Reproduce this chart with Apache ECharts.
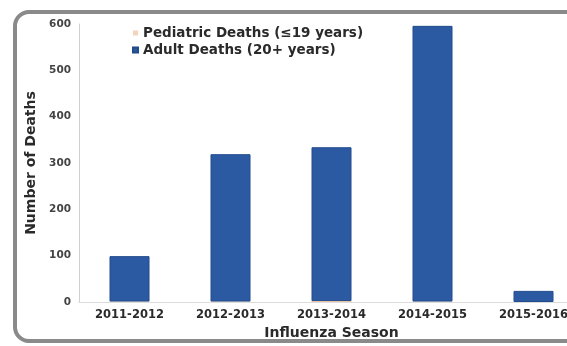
<!DOCTYPE html>
<html>
<head>
<meta charset="utf-8">
<script src="https://cdn.jsdelivr.net/npm/echarts@6/dist/echarts.min.js"></script>
<style>html,body{margin:0;padding:0;background:#fff;}#c{width:567px;height:346px;}</style>
</head>
<body>
<div id="c"></div>
<script>
const seasons = ['2011-2012', '2012-2013', '2013-2014', '2014-2015', '2015-2016'];
const pediatricDeaths = [1, 1, 2, 1, 0];
const adultDeaths = [98, 318, 332, 595, 24];
const yTicks = { min: 0, max: 600, interval: 100 };

const chart = echarts.init(document.getElementById('c'), null, { renderer: 'canvas' });
const font = '"DejaVu Sans", sans-serif';
chart.setOption({
  animation: false,
  backgroundColor: '#ffffff',
  graphic: [{
    type: 'rect', z: -10,
    shape: { x: 15, y: 12, width: 640, height: 329, r: 14 },
    style: { fill: '#ffffff', stroke: '#8a8a8a', lineWidth: 4 }
  }],
  legend: {
    orient: 'vertical', left: 132, top: 26, padding: 0,
    itemWidth: 5, itemHeight: 5, itemGap: 3,
    icon: 'rect',
    textStyle: { fontFamily: font, fontSize: 13.5, fontWeight: 'bold', lineHeight: 14, color: '#2a2a2a' },
    data: [
      { name: 'Pediatric Deaths (≤19 years)', itemStyle: { color: '#f3d3bc' } },
      { name: 'Adult Deaths (20+ years)', itemStyle: { color: '#2e5a9a' } }
    ]
  },
  grid: { left: 79, right: -17, top: 24, bottom: 44, containLabel: false, outerBoundsMode: 'none' },
  xAxis: {
    type: 'category', data: seasons,
    name: 'Influenza Season', nameLocation: 'middle', nameGap: 24,
    nameTextStyle: { fontFamily: font, fontSize: 14, fontWeight: 'bold', color: '#2a2a2a' },
    axisLine: { lineStyle: { color: '#dcdcdc' } },
    axisTick: { show: false },
    axisLabel: { fontFamily: font, fontSize: 11.5, fontWeight: 'bold', color: '#2a2a2a', margin: 7, hideOverlap: false }
  },
  yAxis: {
    type: 'value', min: yTicks.min, max: yTicks.max, interval: yTicks.interval,
    name: 'Number of Deaths', nameLocation: 'middle', nameGap: 39,
    nameTextStyle: { fontFamily: font, fontSize: 14, fontWeight: 'bold', color: '#2a2a2a' },
    axisLine: { show: true, lineStyle: { color: '#d0d0d0' } },
    axisTick: { show: false },
    splitLine: { show: false },
    axisLabel: { fontFamily: font, fontSize: 10.5, fontWeight: 'bold', color: '#444', margin: 8 }
  },
  series: [
    {
      name: 'Pediatric Deaths (≤19 years)', type: 'bar', stack: 'd',
      data: pediatricDeaths, barWidth: 40,
      itemStyle: { color: '#f2c9a6' }
    },
    {
      name: 'Adult Deaths (20+ years)', type: 'bar', stack: 'd',
      data: adultDeaths, barWidth: 40,
      itemStyle: { color: '#2c5aa2', borderColor: '#214b8c', borderWidth: 1 }
    }
  ]
});
</script>
</body>
</html>
